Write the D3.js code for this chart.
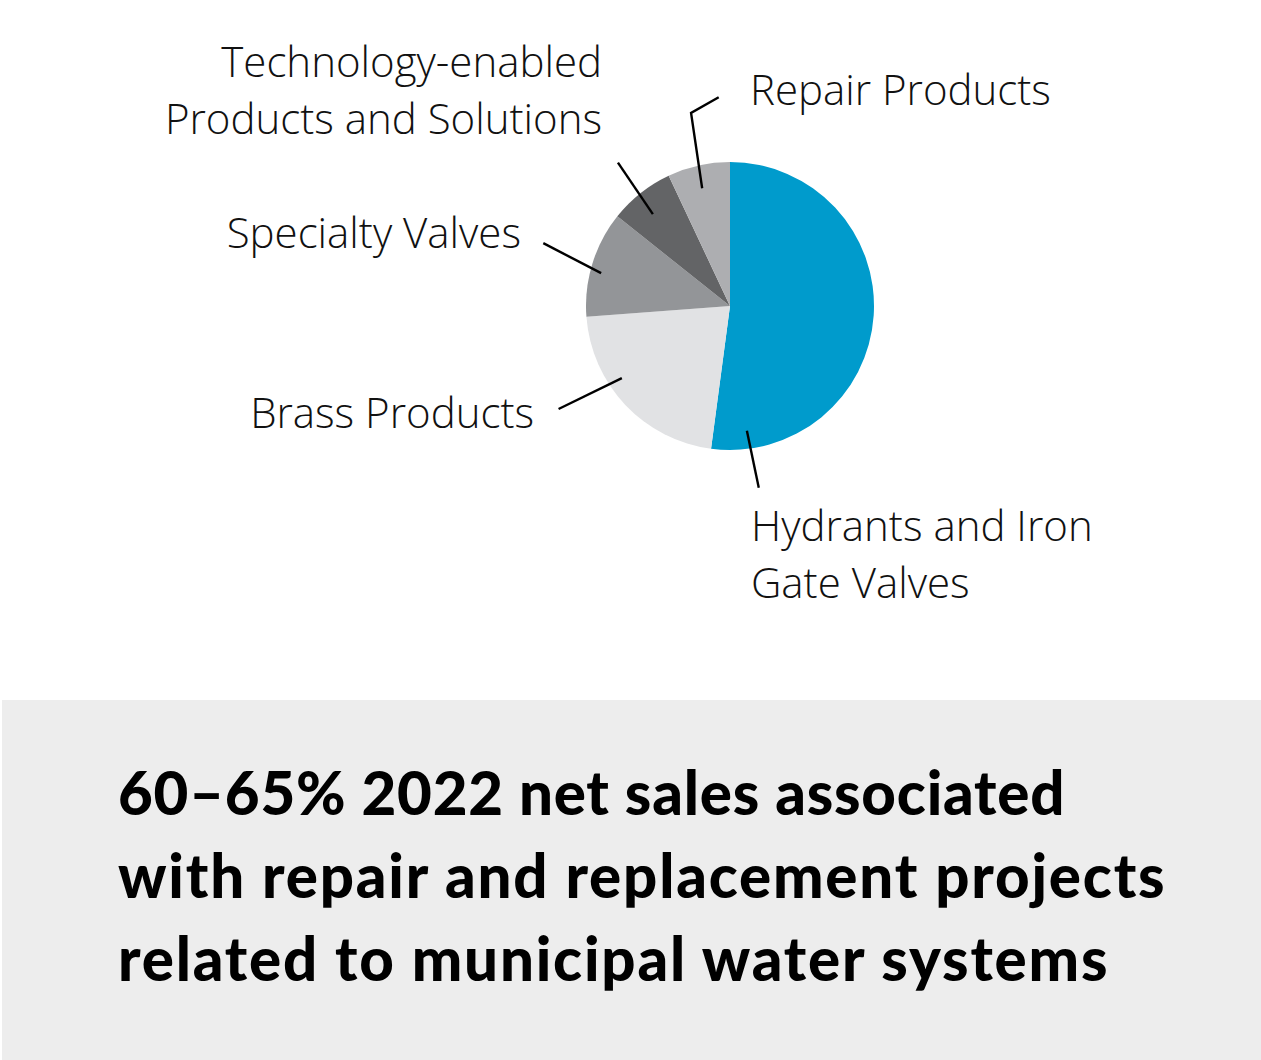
<!DOCTYPE html>
<html>
<head>
<meta charset="utf-8">
<script src="https://cdn.jsdelivr.net/npm/d3@7"></script>
<style>
  body { margin: 0; background: #fff; }
  svg { display: block; }
</style>
</head>
<body>
<svg id="chart"></svg>
<script>
// segments, clockwise from 12 o'clock
const categories = ['Hydrants and Iron Gate Valves', 'Brass Products', 'Specialty Valves',
  'Technology-enabled Products and Solutions', 'Repair Products'];
const shares = [52.1, 21.7, 11.9, 7.3, 7.0];
const colours = ['#009bcc', '#e1e2e4', '#939598', '#636466', '#adaeb1'];
const headline = ['60–65% 2022 net sales associated',
  'with repair and replacement projects',
  'related to municipal water systems'];

const width = 1261, height = 1060;
const cx = 730, cy = 306, radius = 144;

const svg = d3.select('#chart').attr('width', width).attr('height', height);

const pie = d3.pie().sort(null).value(d => d.v);
const arc = d3.arc().innerRadius(0).outerRadius(radius);
const arcs = pie(categories.map((c, i) => ({ c, v: shares[i], col: colours[i] })));

const g = svg.append('g').attr('transform', 'translate(' + cx + ',' + cy + ')');
g.selectAll('path')
  .data(arcs)
  .join('path')
  .attr('d', arc)
  .attr('fill', d => d.data.col);

// leader lines: [angle deg, radius] pairs from pie centre
const leaders = [
  [[172.3, 126], [171, 184]],
  [[236.3, 130], [239, 200]],
  [[284.3, 133], [288.6, 197]],
  [[320, 120], [322, 182]],
  [[346.7, 121], [348.6, 197], [356.9, 209]]
];
const polar = p => {
  const a = p[0] * Math.PI / 180;
  return [Math.sin(a) * p[1], -Math.cos(a) * p[1]];
};
g.selectAll('.leader')
  .data(leaders)
  .join('path')
  .attr('class', 'leader')
  .attr('d', d => d3.line()(d.map(polar)))
  .attr('fill', 'none')
  .attr('stroke', '#000')
  .attr('stroke-width', 2.4);

// labels
const labels = [
  { lines: ['Hydrants and Iron', 'Gate Valves'], x: 751, y: 541, anchor: 'start' },
  { lines: ['Brass Products'], x: 534, y: 428, anchor: 'end' },
  { lines: ['Specialty Valves'], x: 521, y: 248, anchor: 'end' },
  { lines: ['Technology-enabled', 'Products and Solutions'], x: 602, y: 77, anchor: 'end' },
  { lines: ['Repair Products'], x: 750, y: 105, anchor: 'start' }
];
labels.forEach(l => {
  const t = svg.append('text')
    .attr('x', l.x).attr('y', l.y)
    .attr('text-anchor', l.anchor)
    .style('font-family', '"Open Sans", sans-serif')
    .style('font-weight', 300)
    .style('font-size', '42px')
    .attr('fill', '#111');
  l.lines.forEach((s, i) => {
    t.append('tspan').attr('x', l.x).attr('dy', i ? 57 : 0).text(s);
  });
});

// headline box
svg.append('rect')
  .attr('x', 2).attr('y', 700)
  .attr('width', width - 2).attr('height', height - 700)
  .attr('fill', '#ededed');

svg.selectAll('.headline')
  .data(headline)
  .join('text')
  .attr('class', 'headline')
  .attr('x', 118)
  .attr('y', (d, i) => 815 + i * 83)
  .style('font-family', 'Lato, sans-serif')
  .style('font-weight', 900)
  .style('font-size', '60px')
  .style('letter-spacing', (d, i) => i ? '1.8px' : '0.8px')
  .attr('fill', '#000')
  .text(d => d);
</script>
</body>
</html>
